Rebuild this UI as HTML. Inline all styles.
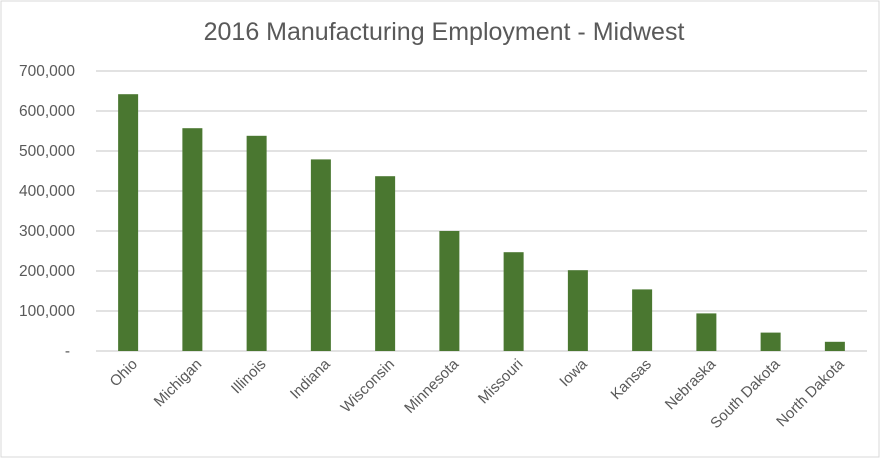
<!DOCTYPE html>
<html><head><meta charset="utf-8"><style>
html,body{margin:0;padding:0;background:#fff;}
svg{display:block;font-family:"Liberation Sans",sans-serif;}
</style></head><body>
<svg id="chart" width="880" height="458">
<rect x="1" y="1" width="878" height="456" fill="#fff" stroke="#d9d9d9"/>
<text x="444" y="40" text-anchor="middle" font-size="25" fill="#595959">2016 Manufacturing Employment - Midwest</text>
<g id="grid"></g><g id="bars"></g><g id="xlabels"></g><g id="ylabels"></g>
</svg>
<script>
const categories=["Ohio","Michigan","Illinois","Indiana","Wisconsin","Minnesota","Missouri","Iowa","Kansas","Nebraska","South Dakota","North Dakota"];
const values=[642000,557000,538000,479000,437000,300000,247000,202000,154000,94000,46000,23000];
const yTicks=[0,100000,200000,300000,400000,500000,600000,700000];
const yTickLabels=["-","100,000","200,000","300,000","400,000","500,000","600,000","700,000"];
const NS="http://www.w3.org/2000/svg";
const x0=96,x1=867,y0=351,y1=71,yMax=700000;
const band=(x1-x0)/categories.length;
function yScale(v){return y0-(v/yMax)*(y0-y1);}
function xCenter(i){return x0+band*(i+0.5);}
function mk(tag,attrs,parent){const e=document.createElementNS(NS,tag);for(const k in attrs)e.setAttribute(k,attrs[k]);parent.appendChild(e);return e;}
const grid=document.getElementById('grid'),bars=document.getElementById('bars'),xl=document.getElementById('xlabels'),yl=document.getElementById('ylabels');
yTicks.forEach((t,i)=>{
  const y=yScale(t);
  const l=mk('line',{x1:x0,x2:x1,y1:y,y2:y,stroke:'#d9d9d9','stroke-width':1.5},grid);
  
  
  const tx=mk('text',{x:t===0?70:75,y:y+5,'text-anchor':'end','font-size':15.5,fill:'#595959'},yl);
  tx.textContent=yTickLabels[i];
  
  
});
const bw=20;
values.forEach((v,i)=>{
  const cx=xCenter(i),y=yScale(v);
  const r=mk('rect',{x:cx-bw/2,y:y,width:bw,height:y0-y,fill:'#4a7730'},bars);
  
  
  const lx=cx+10,ly=y0+14;
  const t=mk('text',{x:lx,y:ly,'text-anchor':'end','font-size':15,fill:'#595959',transform:'rotate(-45 '+lx+' '+ly+')'},xl);
  t.textContent=categories[i];
  
  
});
</script>
</body></html>
